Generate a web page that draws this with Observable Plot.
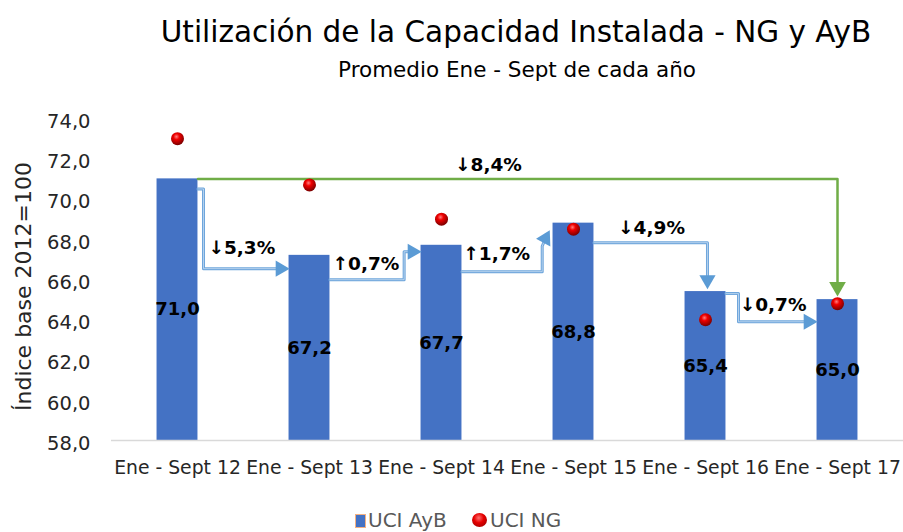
<!DOCTYPE html>
<html>
<head>
<meta charset="utf-8">
<script src="https://cdn.jsdelivr.net/npm/d3@7"></script>
<script src="https://cdn.jsdelivr.net/npm/@observablehq/plot@0.6"></script>
<style>
  body { margin: 0; background: #fff; }
  #wrap { position: relative; width: 903px; height: 532px; overflow: hidden; font-family: "DejaVu Sans", sans-serif; background: #fff; }
  #title { position: absolute; left: 116px; width: 800px; top: 18px; text-align: center; font-size: 29.5px; line-height: 29.5px; color: #000; white-space: nowrap; }
  #subtitle { position: absolute; left: 117px; width: 800px; top: 59px; text-align: center; font-size: 21.5px; line-height: 21.5px; color: #000; white-space: nowrap; }
  #chart { position: absolute; left: 0; top: 88px; }
  .lg { position: absolute; font-size: 20px; line-height: 20px; color: #595959; white-space: nowrap; }
  #lgBox { position: absolute; left: 355px; top: 514px; width: 9px; height: 12px; background: #4472C4; border: 1px solid #f4b183; }
  #lgDot { position: absolute; left: 472px; top: 513px; width: 15px; height: 14px; border-radius: 50%; background: radial-gradient(circle at 45% 35%, #ff7070 0%, #e60000 40%, #8a0000 100%); }
</style>
</head>
<body>
<div id="wrap">
  <div id="title">Utilización de la Capacidad Instalada - NG y AyB</div>
  <div id="subtitle">Promedio Ene - Sept de cada año</div>
  <div id="chart"></div>
  <div id="lgBox"></div>
  <div class="lg" style="left:368px; top:510px;">UCI AyB</div>
  <div id="lgDot"></div>
  <div class="lg" style="left:490px; top:510px;">UCI NG</div>
</div>
<script>
// ---- data ----
const categories = ["Ene - Sept 12", "Ene - Sept 13", "Ene - Sept 14", "Ene - Sept 15", "Ene - Sept 16", "Ene - Sept 17"];
const uciAyB = [71.0, 67.2, 67.7, 68.8, 65.4, 65.0];
const uciNG = [73.0, 70.7, 69.0, 68.5, 64.0, 64.8];
const yearChanges = [-5.3, 0.7, 1.7, -4.9, -0.7];
const totalChange = -8.4;
const yTicks = [58, 60, 62, 64, 66, 68, 70, 72, 74];
const yLabel = "Índice base 2012=100";

// ---- layout ----
const W = 903, H = 401, mL = 111, mR = 0, mT = 30, mB = 49;
const kx = (W - mL - mR) / 6;          // px per category step
const ky = (H - mT - mB) / 16;         // px per index unit
const hw = 0.155;                      // half bar width (category units)
const fmt1 = v => v.toFixed(1).replace(".", ",");
const fmtPct = d => (d < 0 ? "↓" : "↑") + fmt1(Math.abs(d)) + "%";
const idx = d3.range(categories.length);
const v = uciAyB;

// connector paths (elbow arrows) derived from the bar values
const HEAD = 8.7; // px from head centroid to tip
function headAt(tipX, tipY, rot) {
  const a = rot * Math.PI / 180;
  const dxp = Math.sin(a) * HEAD, dyp = -Math.cos(a) * HEAD;
  return {x: tipX - dxp / kx, y: tipY + dyp / ky, rot};
}
const blue = [];
const blueHeads = [];
function addBlue(id, pts, head) {
  pts.forEach(([x, y]) => blue.push({id, x, y}));
  blueHeads.push(head);
}
// 12 -> 13
{ const y0 = v[0] - 0.5, y1 = v[1] - 0.66, xv = hw + 0.042;
  const h = headAt(1 - hw, y1, 90);
  addBlue(0, [[hw, y0], [xv, y0], [xv, y1], [h.x, y1]], h); }
// 13 -> 14
{ const y0 = v[1] - 1.21, y1 = v[2] - 0.32, xv = 2 - hw - 0.128;
  const h = headAt(2 - hw, y1, 90);
  addBlue(1, [[1 + hw, y0], [xv, y0], [xv, y1], [h.x, y1]], h); }
// 14 -> 15
{ const y0 = v[2] - 1.31, xv = 3 - hw - 0.082;
  const h = headAt(3 - hw - 0.027, v[3] - 0.38, 28);
  addBlue(2, [[2 + hw, y0], [xv, y0], [xv, v[3] - 1.15], [h.x, h.y]], h); }
// 15 -> 16
{ const y0 = v[3] - 0.97, xv = 4.015;
  const h = headAt(xv, v[4] + 0.15, 180);
  addBlue(3, [[3 + hw, y0], [xv, y0], [xv, h.y]], h); }
// 16 -> 17
{ const y0 = v[4] - 0.1, y1 = v[5] - 1.1, xv = 4 + hw + 0.095;
  const h = headAt(5 - hw, y1, 90);
  addBlue(4, [[4 + hw, y0], [xv, y0], [xv, y1], [h.x, y1]], h); }
// 12 -> 17 (green)
const greenHead = headAt(5, v[5] + 0.2, 180);
const green = [{x: hw, y: v[0]}, {x: 5, y: v[0]}, {x: 5, y: greenHead.y}];

// change labels
const changeLabels = [
  {x: hw + 0.079, y: v[1] - 0.66 + 1.0, t: fmtPct(yearChanges[0])},
  {x: 1 + hw + 0.02, y: v[1] - 1.21 + 0.8, t: fmtPct(yearChanges[1])},
  {x: 2 + hw + 0.01, y: v[2] - 1.31 + 0.88, t: fmtPct(yearChanges[2])},
  {x: 3.338, y: v[3] - 0.97 + 0.73, t: fmtPct(yearChanges[3])},
  {x: 4 + hw + 0.104, y: v[5] - 1.1 + 0.85, t: fmtPct(yearChanges[4])},
  {x: 2.103, y: v[0] + 0.7, t: fmtPct(totalChange)}
];

const plot = Plot.plot({
  width: W, height: H,
  marginLeft: mL, marginRight: mR, marginTop: mT, marginBottom: mB,
  x: {type: "linear", domain: [-0.5, 5.5]},
  y: {type: "linear", domain: [58, 74]},
  style: {fontFamily: "DejaVu Sans", fontSize: "16px", color: "#262626", background: "transparent", overflow: "visible"},
  marks: [
    Plot.axisY({ticks: yTicks, tickFormat: fmt1, tickSize: 0, tickPadding: 21, fontSize: 19.5, dy: 3, label: null}),
    Plot.axisX({ticks: idx, tickFormat: i => categories[i], tickSize: 0, tickPadding: 20.5, fontSize: 18.8, label: null}),
    Plot.text([yLabel], {frameAnchor: "left", textAnchor: "middle", rotate: -90, dx: -88, dy: 7, fontSize: 22, fill: "#262626"}),
    Plot.rect(idx, {x1: i => i - hw, x2: i => i + hw, y1: 58, y2: i => uciAyB[i], fill: "#4472C4"}),
    Plot.ruleY([58], {stroke: "#d9d9d9", strokeWidth: 1.5}),
    Plot.text(idx, {x: i => i, y: i => (58 + uciAyB[i]) / 2, text: i => fmt1(uciAyB[i]), fontWeight: "bold", fontSize: 18, fill: "#000"}),
    Plot.line(green, {x: "x", y: "y", stroke: "#70AD47", strokeWidth: 2.5}),
    Plot.dot([greenHead], {x: "x", y: "y", symbol: "triangle", r: 6.2, rotate: "rot", fill: "#70AD47", stroke: null}),
    Plot.line(blue, {x: "x", y: "y", z: "id", stroke: "#6FA6DC", strokeWidth: 3}),
    Plot.line(blue, {x: "x", y: "y", z: "id", stroke: "#ffffff", strokeWidth: 0.8, strokeOpacity: 0.6}),
    Plot.dot(blueHeads, {x: "x", y: "y", symbol: "triangle", r: 6, rotate: "rot", fill: "#5B9BD5", stroke: null}),
    Plot.dot(idx, {x: i => i, y: i => uciNG[i], r: 6.5, fill: "url(#sphere)", stroke: null}),
    Plot.text(changeLabels, {x: "x", y: "y", text: "t", textAnchor: "start", fontWeight: "bold", fontSize: 18.5, fill: "#000"})
  ]
});

const defs = d3.select(plot).insert("defs", ":first-child");
const g = defs.append("radialGradient").attr("id", "sphere").attr("cx", "42%").attr("cy", "35%").attr("r", "65%");
g.append("stop").attr("offset", "0").attr("stop-color", "#ff8080");
g.append("stop").attr("offset", "0.35").attr("stop-color", "#f00000");
g.append("stop").attr("offset", "1").attr("stop-color", "#7a0000");

document.getElementById("chart").appendChild(plot);
</script>
</body>
</html>
